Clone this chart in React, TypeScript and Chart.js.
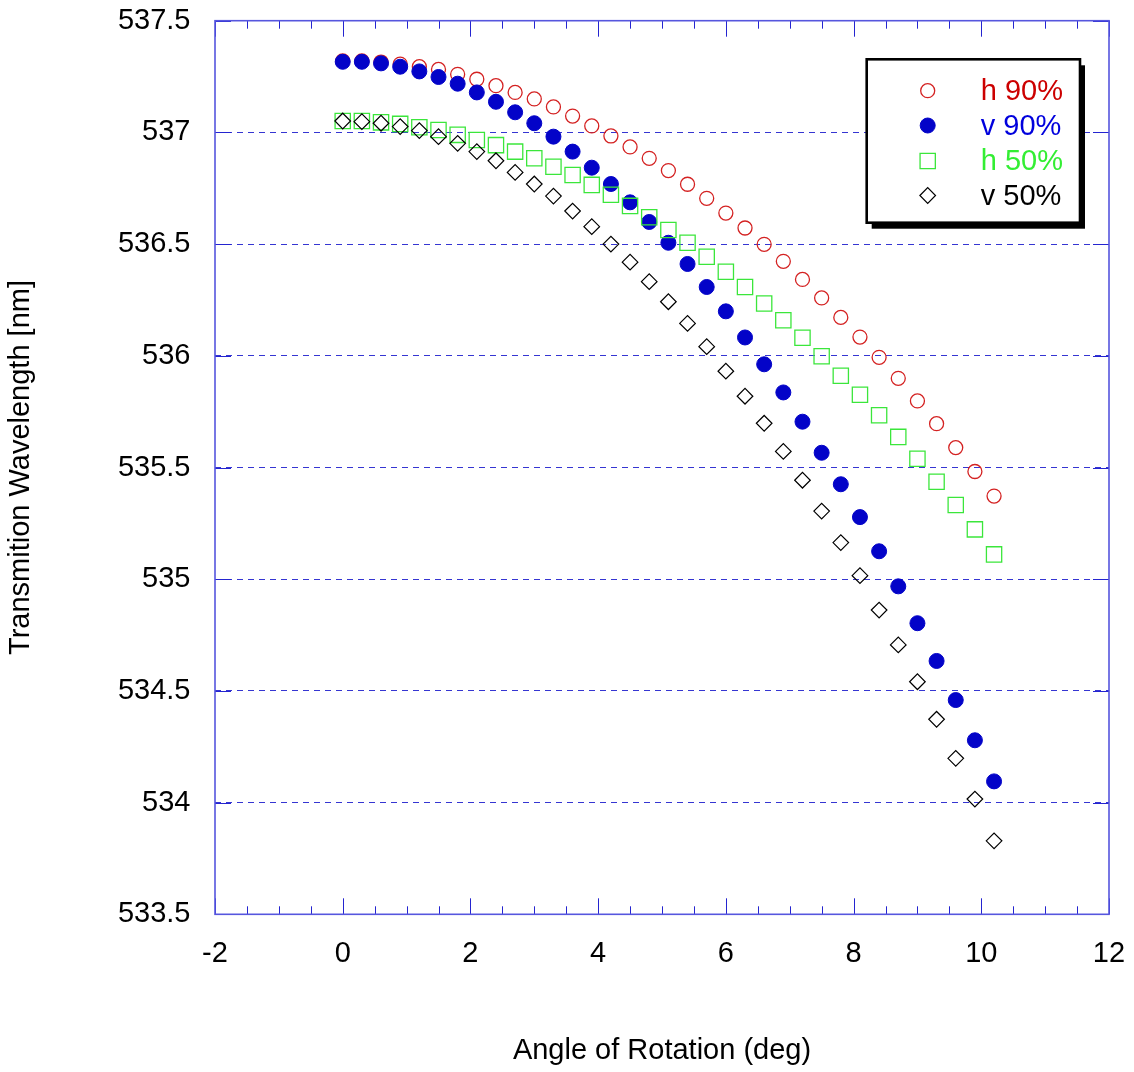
import React, { useEffect, useRef } from 'react';
import { Chart, registerables } from 'chart.js';
import { drawPoint } from 'chart.js/helpers';

Chart.register(...registerables);

// ---- data ----
const angles = [0, 0.3, 0.6, 0.9, 1.2, 1.5, 1.8, 2.1, 2.4, 2.7, 3.0, 3.3, 3.6, 3.9, 4.2, 4.5, 4.8, 5.1, 5.4, 5.7, 6.0, 6.3, 6.6, 6.9, 7.2, 7.5, 7.8, 8.1, 8.4, 8.7, 9.0, 9.3, 9.6, 9.9, 10.2];

const h90 = [537.320, 537.320, 537.315, 537.306, 537.294, 537.282, 537.260, 537.238, 537.209, 537.179, 537.150, 537.114, 537.073, 537.029, 536.984, 536.935, 536.884, 536.829, 536.768, 536.705, 536.639, 536.572, 536.499, 536.423, 536.342, 536.259, 536.172, 536.084, 535.993, 535.899, 535.798, 535.696, 535.589, 535.482, 535.372];

const v90 = [537.316, 537.316, 537.309, 537.294, 537.273, 537.248, 537.218, 537.179, 537.137, 537.090, 537.041, 536.981, 536.914, 536.842, 536.769, 536.687, 536.599, 536.506, 536.411, 536.308, 536.199, 536.082, 535.962, 535.836, 535.705, 535.566, 535.425, 535.278, 535.125, 534.968, 534.803, 534.634, 534.459, 534.279, 534.095];

const h50 = [537.051, 537.051, 537.045, 537.038, 537.023, 537.011, 536.989, 536.966, 536.943, 536.914, 536.884, 536.846, 536.809, 536.765, 536.721, 536.671, 536.620, 536.563, 536.506, 536.443, 536.376, 536.308, 536.234, 536.159, 536.081, 535.998, 535.911, 535.826, 535.734, 535.637, 535.539, 535.436, 535.332, 535.223, 535.111];

const v50 = [537.051, 537.048, 537.041, 537.026, 537.008, 536.981, 536.951, 536.914, 536.873, 536.821, 536.769, 536.715, 536.648, 536.578, 536.500, 536.419, 536.332, 536.242, 536.145, 536.041, 535.931, 535.819, 535.698, 535.572, 535.443, 535.305, 535.164, 535.016, 534.862, 534.706, 534.541, 534.373, 534.198, 534.016, 533.829];

const seriesLabels = ['h 90%', 'v 90%', 'h 50%', 'v 50%'];

const xTickValues = [-2, 0, 2, 4, 6, 8, 10, 12];
const xMinorTickValues = [-1.5, -1, -0.5, 0.5, 1, 1.5, 2.5, 3, 3.5, 4.5, 5, 5.5, 6.5, 7, 7.5, 8.5, 9, 9.5, 10.5, 11, 11.5];
const yTickValues = [533.5, 534, 534.5, 535, 535.5, 536, 536.5, 537, 537.5];

// ---- styles ----
const FONT_FAMILY = '"Liberation Sans", Arial, Helvetica, sans-serif';
const FONT = { family: FONT_FAMILY, size: 29, lineHeight: 1.2 };
const RED = '#d42222';
const BLUE = '#0303c8';
const GREEN = '#3be63b';
const BLACK = '#000000';
const GRID_COLOR = '#3535d2';
const FRAME_COLOR = '#5656de';
const TICK_COLOR = '#2424d0';

const toPoints = (ys: number[]) => angles.map((a, i) => ({ x: a, y: ys[i] }));

const datasetStyles = [
  { pointStyle: 'circle', pointRadius: 7, pointBorderWidth: 1.3, pointBorderColor: RED, pointBackgroundColor: 'rgba(0,0,0,0)', textColor: '#cc0000', order: 4 },
  { pointStyle: 'circle', pointRadius: 7.5, pointBorderWidth: 1, pointBorderColor: BLUE, pointBackgroundColor: BLUE, textColor: '#0000dd', order: 3 },
  { pointStyle: 'rect', pointRadius: 10.8, pointBorderWidth: 1.3, pointBorderColor: GREEN, pointBackgroundColor: 'rgba(0,0,0,0)', textColor: '#33ee33', order: 2 },
  { pointStyle: 'rectRot', pointRadius: 7.8, pointBorderWidth: 1.2, pointBorderColor: BLACK, pointBackgroundColor: 'rgba(0,0,0,0)', textColor: '#000000', order: 1 },
];

const seriesValues = [h90, v90, h50, v50];

const framePlugin = {
  id: 'frameTicks',
  beforeDatasetsDraw(chart: any) {
    const { ctx, chartArea, scales } = chart;
    const { left, right, top, bottom } = chartArea;
    const x = scales.x;
    const y = scales.y;
    const al = (p: number) => Math.round(p) + 0.5;
    ctx.save();
    ctx.strokeStyle = TICK_COLOR;
    ctx.lineWidth = 1;
    ctx.beginPath();
    xTickValues.forEach((v) => {
      const px = al(x.getPixelForValue(v));
      ctx.moveTo(px, bottom); ctx.lineTo(px, bottom - 16);
      ctx.moveTo(px, top); ctx.lineTo(px, top + 16);
    });
    xMinorTickValues.forEach((v) => {
      const px = al(x.getPixelForValue(v));
      ctx.moveTo(px, bottom); ctx.lineTo(px, bottom - 8);
      ctx.moveTo(px, top); ctx.lineTo(px, top + 8);
    });
    yTickValues.forEach((v) => {
      const py = al(y.getPixelForValue(v));
      ctx.moveTo(left, py); ctx.lineTo(left + 16, py);
      ctx.moveTo(right, py); ctx.lineTo(right - 16, py);
    });
    ctx.stroke();
    ctx.strokeStyle = FRAME_COLOR;
    ctx.lineWidth = 1.6;
    ctx.strokeRect(left, top, right - left, bottom - top);
    ctx.restore();
  },
};

const legendPlugin = {
  id: 'boxLegend',
  afterDraw(chart: any) {
    const { ctx } = chart;
    const bx = 866.7, by = 59.3, bw = 213.3, bh = 163.4;
    ctx.save();
    ctx.fillStyle = '#000';
    ctx.fillRect(bx + 5, by + 6, bw, bh);
    ctx.fillStyle = '#fff';
    ctx.fillRect(bx, by, bw, bh);
    ctx.strokeStyle = '#000';
    ctx.lineWidth = 2.6;
    ctx.strokeRect(bx, by, bw, bh);
    const rows = [90.7, 125.5, 161, 195.5];
    chart.data.datasets.forEach((ds: any, i: number) => {
      const st = datasetStyles[i];
      ctx.strokeStyle = st.pointBorderColor;
      ctx.fillStyle = st.pointBackgroundColor;
      ctx.lineWidth = st.pointBorderWidth;
      drawPoint(ctx, { pointStyle: st.pointStyle as any, radius: st.pointRadius, rotation: 0, borderWidth: st.pointBorderWidth }, 927.7, rows[i]);
      ctx.fillStyle = st.textColor;
      ctx.font = `29px ${FONT_FAMILY}`;
      ctx.textAlign = 'left';
      ctx.textBaseline = 'middle';
      ctx.fillText(ds.label, 980.7, rows[i] + 1);
    });
    ctx.restore();
  },
};

export default function App() {
  const ref = useRef<HTMLCanvasElement>(null);
  useEffect(() => {
    const datasets = seriesLabels.map((label, i) => {
      const st = datasetStyles[i];
      return {
        label,
        data: toPoints(seriesValues[i]),
        showLine: false,
        pointStyle: st.pointStyle,
        pointRadius: st.pointRadius,
        pointHoverRadius: st.pointRadius,
        pointBorderWidth: st.pointBorderWidth,
        pointBorderColor: st.pointBorderColor,
        pointBackgroundColor: st.pointBackgroundColor,
        order: st.order,
      };
    });
    const chart = new Chart(ref.current as HTMLCanvasElement, {
      type: 'scatter',
      data: { datasets: datasets as any },
      options: {
        responsive: false,
        animation: false,
        events: [],
        layout: { padding: { top: 20.7, right: 25, left: 0, bottom: 0 } },
        plugins: { legend: { display: false }, tooltip: { enabled: false } },
        scales: {
          x: {
            type: 'linear',
            min: -2,
            max: 12,
            afterBuildTicks: (s: any) => { s.ticks = xTickValues.map((v) => ({ value: v })); },
            afterFit: (s: any) => {
              s.height = 157.7;
              s.paddingLeft = 0; s.paddingRight = 0; s.paddingTop = 0; s.paddingBottom = 0;
            },
            ticks: { padding: 22, font: FONT, color: '#000', callback: (v: any) => String(v) },
            grid: { display: false, drawTicks: false },
            border: { display: false },
            title: { display: true, text: 'Angle of Rotation (deg)', font: FONT, color: '#000', padding: { top: 0, bottom: 3.6 } },
          },
          y: {
            type: 'linear',
            min: 533.5,
            max: 537.5,
            afterBuildTicks: (s: any) => { s.ticks = yTickValues.map((v) => ({ value: v })); },
            afterFit: (s: any) => {
              s.width = 215;
              s.paddingLeft = 0; s.paddingRight = 0; s.paddingTop = 0; s.paddingBottom = 0;
            },
            ticks: { padding: 24.5, font: FONT, color: '#000', callback: (v: any) => String(v) },
            grid: {
              drawTicks: false,
              lineWidth: 1,
              color: (c: any) => (c.tick && (c.tick.value === 533.5 || c.tick.value === 537.5) ? 'rgba(0,0,0,0)' : GRID_COLOR),
            },
            border: { display: false, dash: [6, 5] },
            title: { display: true, text: 'Transmition Wavelength [nm]', font: FONT, color: '#000', padding: { top: 3.6, bottom: 0 } },
          },
        },
      },
      plugins: [framePlugin, legendPlugin],
    } as any);
    return () => chart.destroy();
  }, []);
  return (
    <div style={{ position: 'absolute', left: 0, top: 0, width: 1134, height: 1072, background: '#fff' }}>
      <canvas ref={ref} width={1134} height={1072} style={{ display: 'block' }} />
    </div>
  );
}
